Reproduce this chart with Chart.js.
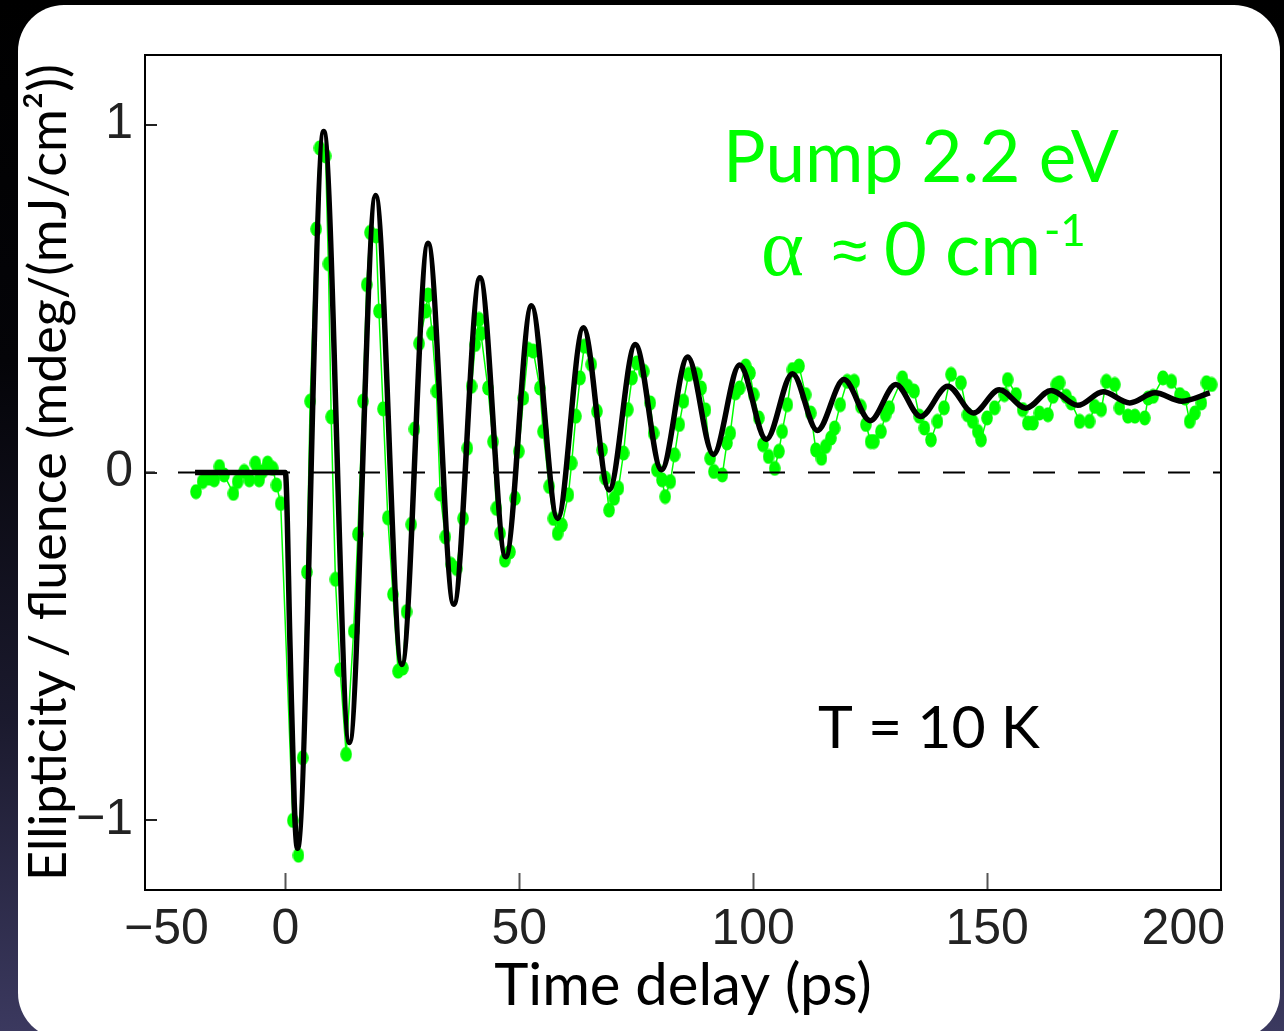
<!DOCTYPE html>
<html><head><meta charset="utf-8">
<script src="https://cdn.jsdelivr.net/npm/chart.js@4.4.1/dist/chart.umd.min.js"></script>
<style>
html,body{margin:0;padding:0;width:1284px;height:1031px;overflow:hidden;}
body{background:linear-gradient(to bottom,#000 0%,#040408 35%,#1b1a2e 70%,#3b395f 100%);position:relative;}
#panel{position:absolute;left:18px;top:5px;width:1262px;height:1034px;background:#fff;border-radius:46px;}
#wrap{position:absolute;left:0;top:0;width:1284px;height:1031px;}
canvas{display:block}
</style></head><body>
<div id="panel"></div>
<div id="wrap"><canvas id="c" width="1284" height="1031"></canvas></div>
<script>
// ---- data ----
const timeDelay = [-19.1,-17.7,-16.3,-15.2,-14.1,-13.1,-11.1,-10.2,-8.8,-7.7,-6.4,-5.6,-4.9,-3.8,-2.7,-1.9,-1.0,
1.6,2.8,3.7,4.6,5.3,6.6,7.3,8.6,9.2,9.8,10.7,11.7,13.0,14.6,15.5,16.6,17.4,18.1,19.4,20.0,20.9,21.9,23.0,24.1,25.1,25.9,26.9,27.6,28.6,30.0,30.5,31.4,32.3,33.1,34.2,35.4,
36.6,38.0,38.9,39.8,40.6,41.4,41.8,43.3,44.4,45.1,45.9,46.9,48.0,49.1,49.9,50.9,51.9,53.0,54.4,55.1,56.4,57.3,58.2,59.1,60.5,61.2,62.1,63.0,63.9,65.4,66.6,67.7,68.4,69.2,70.3,71.2,72.3,73.2,74.1,75.1,76.6,78.0,78.7,79.4,80.5,81.2,82.3,83.2,84.2,85.1,86.2,88.0,88.9,
89.8,90.8,91.6,93.4,94.4,95.1,96.2,97.1,98.4,99.3,100.1,101.2,102.1,103.3,104.6,105.5,106.2,107.3,108.4,109.8,111.2,112.3,113.4,114.6,115.5,116.6,117.4,118.6,120.1,121.6,123.0,124.1,125.1,125.8,127.3,128.3,129.1,131.9,133.0,134.4,135.5,136.6,138.0,139.4,140.8,142.3,144.4,145.8,146.9,148.0,148.7,150.0,151.6,153.7,154.4,156.2,157.6,158.7,159.8,161.2,163.0,164.1,164.8,165.5,166.9,168.0,169.8,171.9,173.0,174.4,175.5,177.3,178.3,180.1,181.6,183.7,184.4,185.5,187.6,189.4,191.2,192.3,193.3,194.4,195.8,196.9,198.0];
const ellipticity = [-0.055,-0.026,-0.016,-0.021,0.017,-0.007,-0.06,-0.026,0.003,-0.021,0.027,-0.021,0.003,0.027,0.012,-0.036,-0.089,
-1.0,-1.10,-0.82,-0.286,0.205,0.70,0.933,0.91,0.60,0.16,-0.307,-0.567,-0.81,-0.456,-0.177,0.205,0.54,0.69,0.68,0.464,0.183,-0.13,-0.35,-0.571,-0.562,-0.40,-0.149,0.125,0.371,0.464,0.51,0.40,0.234,-0.062,-0.185,-0.264,
-0.276,-0.132,0.07,0.248,0.368,0.44,0.40,0.243,0.089,-0.103,-0.175,-0.252,-0.228,-0.074,0.061,0.214,0.354,0.349,0.243,0.118,-0.04,-0.132,-0.175,-0.151,-0.064,0.027,0.162,0.272,0.363,0.311,0.176,0.065,-0.016,-0.108,-0.074,-0.045,0.056,0.181,0.272,0.315,0.291,0.20,0.113,0.008,-0.021,-0.069,-0.026,0.051,0.138,0.205,0.282,0.282,0.243,
0.18,0.041,0.003,-0.007,0.085,0.113,0.229,0.243,0.306,0.286,0.224,0.157,0.08,0.046,0.012,0.061,0.118,0.195,0.296,0.306,0.224,0.171,0.065,0.041,0.075,0.099,0.128,0.195,0.262,0.262,0.19,0.138,0.089,0.089,0.118,0.166,0.186,0.272,0.248,0.234,0.162,0.128,0.094,0.147,0.186,0.282,0.258,0.166,0.147,0.118,0.094,0.157,0.186,0.224,0.267,0.224,0.181,0.142,0.142,0.171,0.166,0.219,0.253,0.258,0.219,0.2,0.147,0.147,0.19,0.181,0.262,0.253,0.186,0.162,0.162,0.157,0.214,0.219,0.272,0.262,0.224,0.214,0.147,0.171,0.2,0.258,0.253];
const fitTime = [-19.3,0,1.0,1.9,2.6,8.2,13.7,19.3,24.9,30.5,36.0,41.6,47.1,52.6,58.2,63.7,69.2,74.8,80.4,86.0,91.5,97.1,102.8,108.4,113.7,119.4,125.0,130.5,135.8,141.6,147.1,152.6,158.3,163.7,169.4,174.8,180.5,185.9,191.6,197.6];
const fitValue = [0,0,-0.5,-0.95,-1.08,0.98,-0.776,0.796,-0.552,0.659,-0.379,0.56,-0.242,0.479,-0.132,0.416,-0.05,0.368,0.008,0.332,0.052,0.309,0.095,0.284,0.121,0.267,0.149,0.253,0.161,0.248,0.171,0.238,0.185,0.236,0.193,0.232,0.2,0.229,0.205,0.229];
const zeroLineTime = [-30, 200];
const xTickValues = [-50, 0, 50, 100, 150, 200];
const xTickLabels = ['\u221250', '0', '50', '100', '150', '200'];
const yTickValues = [-1, 0, 1];
const yTickLabels = ['\u22121', '0', '1'];
const xTitle = 'Time delay (ps)';
const yTitle = 'Ellipticity / fluence (mdeg/(mJ/cm\u00b2))';
const pumpText = 'Pump 2.2 eV';
const tempText = 'T = 10 K';

const GREEN = '#00ff00';
const X_MIN = -30, X_MAX = 200, Y_MIN = -1.2, Y_MAX = 1.2;

// ellipse marker
const marker = document.createElement('canvas');
marker.width = 12; marker.height = 16;
(function(){ const m = marker.getContext('2d'); m.fillStyle = GREEN; m.beginPath(); m.ellipse(6, 8, 5.8, 7.6, 0, 0, Math.PI*2); m.fill(); })();

const framePlugin = {
  id: 'frame',
  afterDatasetsDraw(chart) {
    const {ctx, chartArea: a, scales: {x, y}} = chart;
    ctx.save();
    ctx.lineWidth = 2;
    ctx.strokeStyle = '#555';
    xTickValues.forEach(v => {
      if (v <= X_MIN || v >= X_MAX) return;
      const p = Math.round(x.getPixelForValue(v)) + 0.5;
      ctx.beginPath(); ctx.moveTo(p, a.bottom); ctx.lineTo(p, a.bottom - 17); ctx.stroke();
    });
    ctx.strokeStyle = '#222';
    yTickValues.forEach(v => {
      const p = Math.round(y.getPixelForValue(v));
      ctx.beginPath(); ctx.moveTo(a.left, p); ctx.lineTo(a.left + 12, p); ctx.stroke();
    });
    ctx.strokeStyle = '#000';
    ctx.lineWidth = 2;
    ctx.strokeRect(a.left, a.top, a.right - a.left, a.bottom - a.top);
    ctx.restore();
  },
  afterDraw(chart) {
    const {ctx, chartArea: a, scales: {x}} = chart;
    ctx.save();
    ctx.fillStyle = '#222';
    ctx.font = "50px 'Liberation Sans'";
    ctx.textBaseline = 'alphabetic';
    xTickValues.forEach((v, i) => {
      const lbl = xTickLabels[i];
      if (v < X_MIN) { ctx.textAlign = 'left'; ctx.fillText(lbl, a.left - 21, 944); }
      else if (v >= X_MAX) { ctx.textAlign = 'right'; ctx.fillText(lbl, a.right + 4, 944); }
      else { ctx.textAlign = 'center'; ctx.fillText(lbl, x.getPixelForValue(v), 944); }
    });
    ctx.fillStyle = GREEN;
    ctx.textAlign = 'center';
    ctx.font = "71px Lato";
    ctx.fillText(pumpText, 921, 182);
    ctx.textAlign = 'left';
    ctx.font = "82px 'Liberation Serif'";
    ctx.fillText('\u03b1', 761, 275);
    ctx.font = "64px 'Liberation Sans'";
    ctx.fillText('\u2248', 832, 272);
    ctx.font = "74px Lato";
    ctx.fillText('0', 884, 275);
    ctx.fillText('cm', 945, 275);
    ctx.font = "44px Lato";
    ctx.fillText('-1', 1044, 246);
    ctx.fillStyle = '#000';
    ctx.font = "59px Lato";
    ctx.fillText(tempText, 818, 748);
    ctx.restore();
  }
};

new Chart(document.getElementById('c'), {
  type: 'line',
  data: {
    datasets: [
      { label: 'fit', data: fitTime.map((t, i) => ({x: t, y: fitValue[i]})), borderColor: '#000', borderWidth: 5.5,
        pointRadius: 0, cubicInterpolationMode: 'monotone', order: 0 },
      { label: 'zero', data: zeroLineTime.map(t => ({x: t, y: 0})), borderColor: '#000', borderWidth: 2,
        borderDash: [22, 23], borderDashOffset: 12, pointRadius: 0, order: 1 },
      { label: 'data', data: timeDelay.map((t, i) => ({x: t, y: ellipticity[i]})), borderColor: GREEN, borderWidth: 1.5,
        pointStyle: marker, pointRadius: 6, pointBackgroundColor: GREEN, pointBorderWidth: 0, tension: 0, order: 2 }
    ]
  },
  options: {
    responsive: false,
    animation: false,
    events: [],
    layout: { padding: { left: 0, top: 55, right: 63, bottom: 0 } },
    plugins: { legend: { display: false }, tooltip: { enabled: false } },
    scales: {
      x: {
        type: 'linear', min: X_MIN, max: X_MAX,
        grid: { display: false, drawTicks: false }, border: { display: false },
        ticks: { display: false },
        title: { display: true, text: xTitle, color: '#000', font: { family: 'Lato', size: 58 }, padding: { top: 0, bottom: 10 } },
        afterFit(s) { s.height = 141; }
      },
      y: {
        type: 'linear', min: Y_MIN, max: Y_MAX,
        grid: { display: false, drawTicks: false }, border: { display: false },
        afterBuildTicks(s) { s.ticks = yTickValues.map(v => ({ value: v })); },
        ticks: { callback: (v, i) => yTickLabels[i], color: '#222', font: { family: 'Liberation Sans', size: 50 }, padding: 12 },
        title: { display: true, text: yTitle, color: '#000', font: { family: 'Lato', size: 52 }, padding: { top: 18, bottom: 0 } },
        afterFit(s) { s.width = 145; }
      }
    }
  },
  plugins: [framePlugin]
});
</script></body></html>
